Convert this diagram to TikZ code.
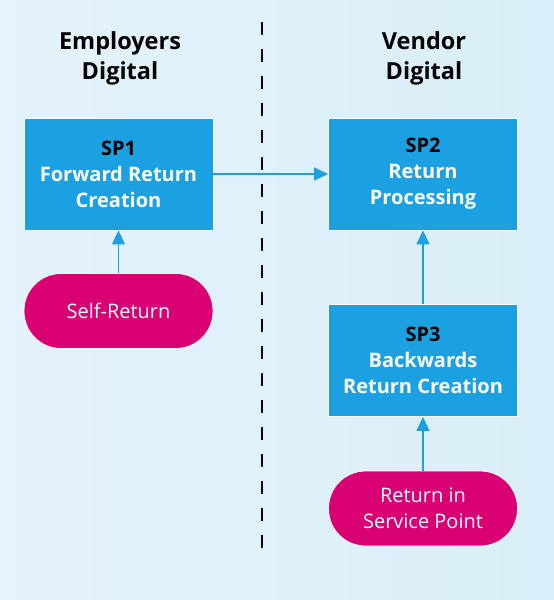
\documentclass[tikz,border=0pt]{standalone}
\usepackage{fontspec}
\setmainfont{Open Sans}
\usetikzlibrary{arrows.meta}
\definecolor{bgA}{HTML}{E5F3FB}
\definecolor{bgB}{HTML}{D9EEF8}
\definecolor{boxblue}{HTML}{1BA1E2}
\definecolor{pink}{HTML}{D80073}
\tikzset{
  spbox/.style={rectangle, fill=boxblue, draw=white, line width=0.8pt, minimum width=189pt, minimum height=112pt, inner sep=0pt, align=center, font=\fontsize{20}{26}\selectfont\bfseries, text=white},
  pill/.style={rectangle, rounded corners=37pt, fill=pink, draw=white, line width=0.8pt, minimum width=189pt, minimum height=75pt, inner sep=0pt, align=center, font=\fontsize{20}{26}\selectfont, text=white},
  head/.style={align=center, font=\fontsize{23.5}{30}\selectfont\bfseries, text=black},
  conn/.style={draw=boxblue, line width=1.2pt, -{Triangle[length=14pt, width=13pt]}},
  divider/.style={draw=black, line width=2.4pt, dash pattern=on 13pt off 14pt}
}
\begin{document}
\begin{tikzpicture}[x=1pt, y=-1pt]
\shade[left color=bgA, right color=bgB] (0,0) rectangle (554,600);
\useasboundingbox (0,0) rectangle (554,600);
\coordinate (dtop) at (262,22);
\coordinate (dbot) at (262,548);
\draw[divider] (dtop) -- (dbot);
\node[head] (h1) at (120,58) {Employers\\Digital};
\node[head] (h2) at (424,58) {Vendor\\Digital};
\node[spbox] (sp1) at (118.5,174) {\textcolor{black}{SP1}\\Forward Return\\Creation};
\node[spbox] (sp2) at (423,174) {\textcolor{black}{SP2}\\Return\\Processing};
\node[spbox] (sp3) at (423,360.5) {\textcolor{black}{SP3}\\Backwards\\Return Creation};
\node[pill] (self) at (118.5,311) {Self-Return};
\node[pill] (risp) at (423,508.5) {Return in\\Service Point};
\draw[conn] (sp1) -- (sp2);
\draw[conn] (self) -- (sp1);
\draw[conn] (sp3) -- (sp2);
\draw[conn] (risp) -- (sp3);
\end{tikzpicture}
\end{document}
